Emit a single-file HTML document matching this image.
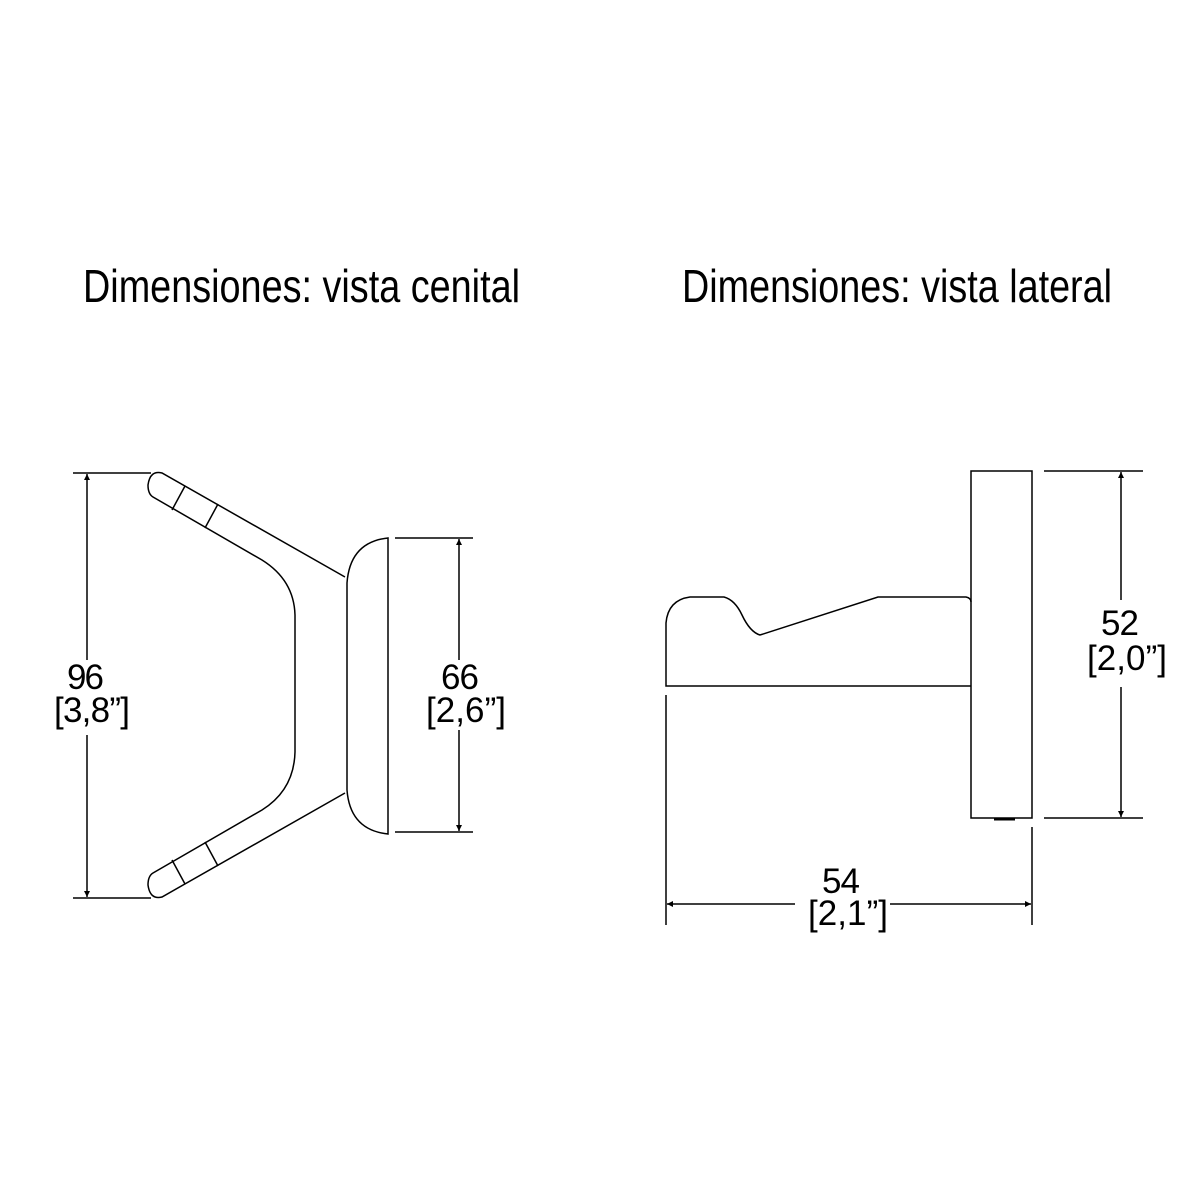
<!DOCTYPE html>
<html><head><meta charset="utf-8"><style>html,body{margin:0;padding:0;background:#fff}svg{display:block}</style></head>
<body>
<svg width="1200" height="1200" viewBox="0 0 1200 1200" xmlns="http://www.w3.org/2000/svg">
<defs>
<marker id="a" viewBox="0 0 10 10" refX="10" refY="5" markerWidth="6" markerHeight="14" markerUnits="userSpaceOnUse" orient="auto"><path d="M0,0L10,5L0,10z" fill="#000"/></marker>
</defs>
<g font-family="Liberation Sans, sans-serif" fill="#000">
<text x="83" y="302" font-size="46" textLength="437" lengthAdjust="spacingAndGlyphs">Dimensiones: vista cenital</text>
<text x="682" y="302" font-size="46" textLength="430" lengthAdjust="spacingAndGlyphs">Dimensiones: vista lateral</text>
<g font-size="35" lengthAdjust="spacingAndGlyphs">
<text x="67" y="689" textLength="37">96</text><text x="54" y="722" textLength="76">[3,8”]</text>
<text x="441" y="689" textLength="38">66</text><text x="426" y="722" textLength="80">[2,6”]</text>
<text x="1101" y="635" textLength="38">52</text><text x="1087" y="670" textLength="80">[2,0”]</text>
<text x="822" y="893" textLength="38">54</text><text x="808" y="925" textLength="80">[2,1”]</text>
</g>
</g>
<g fill="none" stroke="#000" stroke-width="1.5">
<line x1="73" y1="473" x2="151" y2="473"/><line x1="73" y1="898" x2="151" y2="898"/>
<line x1="87" y1="660" x2="87" y2="474" marker-end="url(#a)"/>
<line x1="87" y1="735" x2="87" y2="897" marker-end="url(#a)"/>
<line x1="395" y1="538" x2="473" y2="538"/><line x1="395" y1="832" x2="473" y2="832"/>
<line x1="459" y1="660" x2="459" y2="539" marker-end="url(#a)"/>
<line x1="459" y1="730" x2="459" y2="831" marker-end="url(#a)"/>
<path d="M345,577 L162,473 Q150,470 148,485 Q148,494 153,497 L262,560 Q294,580 295,615 L295,752 Q294,790 262,810 L153,873 Q148,876 148,885 Q150,900 162,897 L345,793"/>
<path d="M347,583 L347,790 Q350,830 388,834 L388,538 Q350,542 347,583"/>
<line x1="172" y1="510" x2="185" y2="486"/><line x1="205" y1="528" x2="218" y2="504"/>
<line x1="172" y1="860" x2="185" y2="884"/><line x1="205" y1="842" x2="218" y2="866"/>
<rect x="971" y="471" width="61" height="347"/>
<path d="M994,819 h21" stroke-width="3"/>
<path d="M971,686 L666,686 L666,623 Q668,600 690,597 L724,597 Q735,600 742,615 Q750,632 760,635 L878,597 L966,597 Q971,598 971,602"/>
<line x1="1044" y1="471" x2="1143" y2="471"/><line x1="1044" y1="818" x2="1143" y2="818"/>
<line x1="1121" y1="600" x2="1121" y2="472" marker-end="url(#a)"/>
<line x1="1121" y1="687" x2="1121" y2="817" marker-end="url(#a)"/>
<line x1="666" y1="695" x2="666" y2="925"/><line x1="1032" y1="827" x2="1032" y2="925"/>
<line x1="795" y1="904" x2="667" y2="904" marker-end="url(#a)"/>
<line x1="890" y1="904" x2="1031" y2="904" marker-end="url(#a)"/>
</g>
</svg>
</body></html>
